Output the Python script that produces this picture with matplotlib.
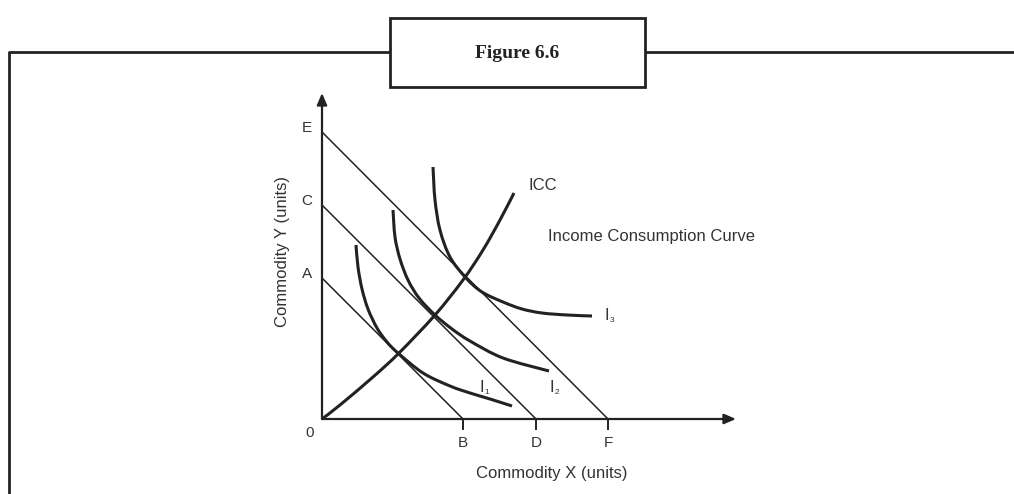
import numpy as np
import matplotlib
matplotlib.use("Agg")
import matplotlib.pyplot as plt
from matplotlib.patches import Rectangle, PathPatch
from matplotlib.path import Path

# budget line intercepts (units on the axes)
budget_names = [("A", "B"), ("C", "D"), ("E", "F")]
budget_y = [141, 214, 287]
budget_x = [141, 214, 286]

# indifference curves, points
i1_x = [34, 36, 40, 46, 55, 65, 76, 101, 128, 148, 168, 190]
i1_y = [174, 152, 130, 110, 91, 77, 66, 46, 33, 26, 20, 13]
i2_x = [71, 73, 78, 86, 97, 113, 130, 148, 181, 227]
i2_y = [209, 182, 160, 139, 121, 104, 90, 78, 61, 48]
i3_x = [111, 113, 118, 128, 144, 160, 181, 200, 220, 245, 270]
i3_y = [252, 219, 189, 162, 141, 127, 117, 110, 106, 104, 103]

# income consumption curve
icc_x = [0, 18, 51, 77, 113, 141, 161, 178, 192]
icc_y = [0, 14, 42, 66, 104, 139, 169, 199, 226]

x_axis_end = 414
y_axis_end = 326

ink = "#222222"
txt = "#333333"
sans = "Liberation Sans"


def smooth_path(xs, ys):
    # draw a smooth curve through the read points (catmull-rom as cubic beziers)
    p = np.column_stack([xs, ys]).astype(float)
    verts = [p[0]]
    codes = [Path.MOVETO]
    for i in range(len(p) - 1):
        p0 = p[i - 1] if i > 0 else p[i]
        p3 = p[i + 2] if i + 2 < len(p) else p[i + 1]
        c1 = p[i] + (p[i + 1] - p0) / 6
        c2 = p[i + 1] - (p3 - p[i]) / 6
        verts += [c1, c2, p[i + 1]]
        codes += [Path.CURVE4] * 3
    return Path(verts, codes)


fig = plt.figure(figsize=(10.14, 4.94), dpi=100)

# page frame and the title box, in pixel coords
frame = fig.add_axes([0, 0, 1, 1])
frame.set_xlim(0, 1014)
frame.set_ylim(494, 0)
frame.axis("off")
frame.plot([8.5, 8.5, 390], [494, 52, 52], color=ink, lw=2, solid_capstyle="butt")
frame.plot([645, 1014], [52, 52], color=ink, lw=2, solid_capstyle="butt")
frame.add_patch(Rectangle((390, 18), 255, 69, fill=False, edgecolor=ink, lw=2))
frame.text(517.5, 53, "Figure 6.6", ha="center", va="center", fontsize=14,
           fontweight="bold", family="Liberation Serif", color=ink)

# the diagram itself, 1 data unit = 1 pixel
ax = fig.add_axes([322 / 1014, 75 / 494, 430 / 1014, 340 / 494])
ax.set_xlim(0, 430)
ax.set_ylim(0, 340)
ax.axis("off")

ax.annotate("", xy=(x_axis_end, 0), xytext=(0, 0),
            arrowprops=dict(arrowstyle="-|>,head_length=0.7,head_width=0.3", color=ink, lw=1.6,
                            shrinkA=0, shrinkB=0))
ax.annotate("", xy=(0, y_axis_end), xytext=(0, 0),
            arrowprops=dict(arrowstyle="-|>,head_length=0.7,head_width=0.3", color=ink, lw=1.6,
                            shrinkA=0, shrinkB=0))

for (ylab, xlab), yi, xi in zip(budget_names, budget_y, budget_x):
    ax.plot([0, xi], [yi, 0], color=ink, lw=1.1)
    ax.plot([xi, xi], [0, -10], color=ink, lw=1.4, clip_on=False)
    ax.text(-15, yi + 4, ylab, ha="center", va="center", fontsize=11, family=sans, color=txt)
    ax.text(xi, -24, xlab, ha="center", va="center", fontsize=11, family=sans, color=txt)
ax.text(-12, -14, "0", ha="center", va="center", fontsize=11, family=sans, color=txt)

for cx, cy in [(i1_x, i1_y), (i2_x, i2_y), (i3_x, i3_y), (icc_x, icc_y)]:
    ax.add_patch(PathPatch(smooth_path(cx, cy), fill=False, edgecolor=ink, lw=2.2,
                           capstyle="butt"))

for lx, ly, sub in [(160, 32, "1"), (230, 32, "2"), (285, 104, "3")]:
    ax.text(lx, ly, "I", ha="center", va="center", fontsize=12, family=sans, color=txt)
    ax.text(lx + 2.5, ly - 5, sub, ha="left", va="center", fontsize=6, family=sans, color=txt)

ax.text(206, 234, "ICC", ha="left", va="center", fontsize=12, family=sans, color=txt)
ax.text(226, 183, "Income Consumption Curve", ha="left", va="center", fontsize=12,
        family=sans, color=txt)

ax.text(230, -54, "Commodity X (units)", ha="center", va="center", fontsize=12,
        family=sans, color=txt)
ax.text(-40, 168, "Commodity Y (units)", ha="center", va="center", rotation=90,
        fontsize=12, family=sans, color=txt)

fig.savefig("out.png", dpi=100)
